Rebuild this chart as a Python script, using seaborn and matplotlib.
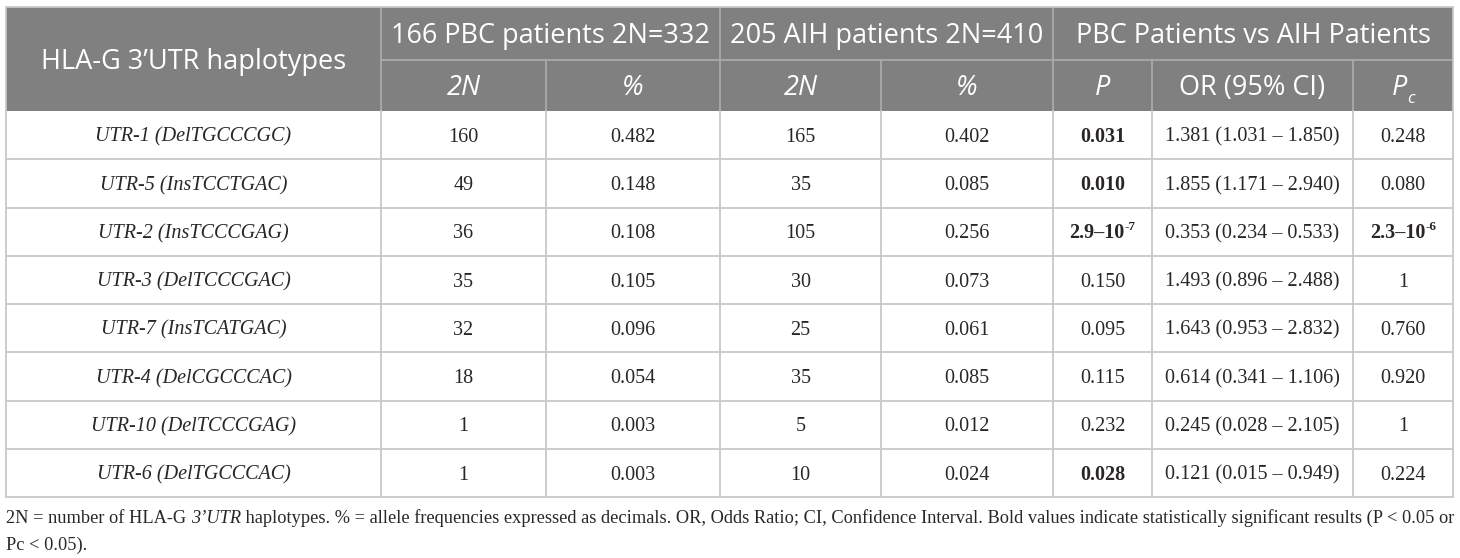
import matplotlib
matplotlib.use("Agg")
import matplotlib.pyplot as plt
import seaborn as sns
from matplotlib.patches import Rectangle

# ---------------- data ----------------
haplotypes = ["UTR-1 (DelTGCCCGC)", "UTR-5 (InsTCCTGAC)", "UTR-2 (InsTCCCGAG)",
              "UTR-3 (DelTCCCGAC)", "UTR-7 (InsTCATGAC)", "UTR-4 (DelCGCCCAC)",
              "UTR-10 (DelTCCCGAG)", "UTR-6 (DelTGCCCAC)"]
pbc_2n = [160, 49, 36, 35, 32, 18, 1, 1]
pbc_freq = ["0.482", "0.148", "0.108", "0.105", "0.096", "0.054", "0.003", "0.003"]
aih_2n = [165, 35, 105, 30, 25, 35, 5, 10]
aih_freq = ["0.402", "0.085", "0.256", "0.073", "0.061", "0.085", "0.012", "0.024"]
p_values = ["0.031", "0.010", "2.9–10^-7", "0.150", "0.095", "0.115", "0.232", "0.028"]
or_ci = ["1.381 (1.031 – 1.850)", "1.855 (1.171 – 2.940)", "0.353 (0.234 – 0.533)",
         "1.493 (0.896 – 2.488)", "1.643 (0.953 – 2.832)", "0.614 (0.341 – 1.106)",
         "0.245 (0.028 – 2.105)", "0.121 (0.015 – 0.949)"]
pc_values = ["0.248", "0.080", "2.3–10^-6", "1", "0.760", "0.920", "1", "0.224"]

group_headers = ["166 PBC patients 2N=332", "205 AIH patients 2N=410", "PBC Patients vs AIH Patients"]
first_header = "HLA-G 3’UTR haplotypes"
sub_headers = ["2N", "%", "2N", "%", "P", "OR (95% CI)", "P_c"]
sub_italic = [True, True, True, True, True, False, True]

foot_line1 = [("2N = number of HLA-G ", "normal"), ("3’UTR", "italic"),
              (" haplotypes. % = allele frequencies expressed as decimals. OR, Odds Ratio; CI, "
               "Confidence Interval. Bold values indicate statistically significant results (P < 0.05 or",
               "normal")]
foot_line2 = [("Pc < 0.05).", "normal")]

SIG = 0.05


def to_float(s):
    if "^" in s:
        base, exp = s.split("^")
        return float(base.replace("–10", "")) * 10 ** float(exp)
    return float(s)


# ---------------- style ----------------
sns.set_theme(style="white")
plt.rcParams["font.family"] = ["DejaVu Sans"]

DPI = 100
W, H = 1460, 558
fig = plt.figure(figsize=(W / DPI, H / DPI), dpi=DPI)
ax = fig.add_axes([0, 0, 1, 1])
ax.set_xlim(0, W)
ax.set_ylim(H, 0)
ax.axis("off")
renderer = fig.canvas.get_renderer()

col_x = [6, 381, 546, 720, 881, 1053, 1152, 1353, 1453]
top, h1, h2 = 7, 60, 111
row_h = 48.25
n_rows = len(haplotypes)
bottom = h2 + row_h * n_rows

HEADER_FILL = "#808080"
HEADER_LINE = "#a9a9a9"
GRID = "#c8c8c8"
TXT = "#2a2627"

SANS = "Open Sans"
SERIF = "Liberation Serif"
HEAD_PT = 19.5
BODY_PT = 14.5

# header background
ax.add_patch(Rectangle((col_x[0], top), col_x[-1] - col_x[0], h2 - top,
                       facecolor=HEADER_FILL, edgecolor="none", zorder=1))

lw = 1.3
# header lines
for i in (1, 3, 5):
    ax.plot([col_x[i], col_x[i]], [top, h2], color=HEADER_LINE, lw=lw, zorder=2)
for i in (2, 4, 6, 7):
    ax.plot([col_x[i], col_x[i]], [h1, h2], color=HEADER_LINE, lw=lw, zorder=2)
ax.plot([col_x[1], col_x[-1]], [h1, h1], color=HEADER_LINE, lw=lw, zorder=2)
# outer border
ax.plot([col_x[0], col_x[-1]], [top, top], color=GRID, lw=lw, zorder=3)
ax.plot([col_x[0], col_x[0]], [top, bottom], color=GRID, lw=lw, zorder=3)
ax.plot([col_x[-1], col_x[-1]], [top, bottom], color=GRID, lw=lw, zorder=3)
# body grid
for x in col_x[1:-1]:
    ax.plot([x, x], [h2, bottom], color=GRID, lw=lw, zorder=2)
for r in range(1, n_rows + 1):
    y = h2 + r * row_h
    ax.plot([col_x[0], col_x[-1]], [y, y], color=GRID, lw=lw, zorder=2)


def draw_pieces(x, y_base, pieces, ha="center"):
    arts, widths = [], []
    for txt, kw, dy in pieces:
        t = ax.text(0, y_base + dy, txt, va="baseline", ha="left", zorder=5, **kw)
        arts.append(t)
        widths.append(t.get_window_extent(renderer).width)
    total = sum(widths)
    cur = x - total / 2 if ha == "center" else x
    for t, w in zip(arts, widths):
        t.set_x(cur)
        cur += w
    return total


px = DPI / 72.0
head_base = lambda c: c + 0.36 * HEAD_PT * px
body_base = lambda c: c + 0.33 * BODY_PT * px

# header texts
hk = dict(family=SANS, fontsize=HEAD_PT, color="white")
draw_pieces((col_x[0] + col_x[1]) / 2, head_base((top + h2) / 2), [(first_header, hk, 0)])
for g, (a, b) in enumerate([(1, 3), (3, 5), (5, 8)]):
    draw_pieces((col_x[a] + col_x[b]) / 2, head_base((top + h1) / 2), [(group_headers[g], hk, 0)])
for j, lab in enumerate(sub_headers):
    cx = (col_x[j + 1] + col_x[j + 2]) / 2
    style = "italic" if sub_italic[j] else "normal"
    kw = dict(hk, style=style)
    if "_" in lab:
        main, sub = lab.split("_")
        kws = dict(kw, fontsize=HEAD_PT * 0.62)
        draw_pieces(cx, head_base((h1 + h2) / 2), [(main, kw, 0), (sub, kws, 0.28 * HEAD_PT * px)])
    else:
        draw_pieces(cx, head_base((h1 + h2) / 2), [(lab, kw, 0)])


def value_pieces(s, bold):
    kw = dict(family=SERIF, fontsize=BODY_PT, color=TXT, weight="bold" if bold else "normal")
    if "^" in s:
        base, exp = s.split("^")
        kws = dict(kw, fontsize=BODY_PT * 0.65)
        return [(base, kw, 0), (exp, kws, -0.42 * BODY_PT * px)]
    return [(s, kw, 0)]


for r in range(n_rows):
    cy = body_base(h2 + (r + 0.5) * row_h)
    cols = [(haplotypes[r], "italic", False), (str(pbc_2n[r]), "normal", False),
            (pbc_freq[r], "normal", False), (str(aih_2n[r]), "normal", False),
            (aih_freq[r], "normal", False)]
    for j, (txt, st, b) in enumerate(cols):
        cx = (col_x[j] + col_x[j + 1]) / 2
        draw_pieces(cx, cy, [(txt, dict(family=SERIF, fontsize=BODY_PT, color=TXT, style=st), 0)])
    draw_pieces((col_x[5] + col_x[6]) / 2, cy, value_pieces(p_values[r], to_float(p_values[r]) < SIG))
    draw_pieces((col_x[6] + col_x[7]) / 2, cy,
                [(or_ci[r], dict(family=SERIF, fontsize=BODY_PT, color=TXT), 0)])
    draw_pieces((col_x[7] + col_x[8]) / 2, cy, value_pieces(pc_values[r], to_float(pc_values[r]) < SIG))

# footnote: fit first line to table width
FOOT_PT = 12.0


def foot_pieces(line, size):
    return [(t, dict(family=SERIF, fontsize=size, color=TXT, style=s), 0) for t, s in line]


probe = [ax.text(0, 0, t, family=SERIF, fontsize=FOOT_PT, style=s) for t, s in foot_line1]
wtot = sum(p.get_window_extent(renderer).width for p in probe)
for p in probe:
    p.remove()
FOOT_PT = FOOT_PT * (col_x[-1] - col_x[0] - 2) / wtot

draw_pieces(col_x[0], 517 + 0.33 * FOOT_PT * px, foot_pieces(foot_line1, FOOT_PT), ha="left")
draw_pieces(col_x[0], 544 + 0.33 * FOOT_PT * px, foot_pieces(foot_line2, FOOT_PT), ha="left")

fig.savefig("out.png", dpi=DPI, facecolor="white")
